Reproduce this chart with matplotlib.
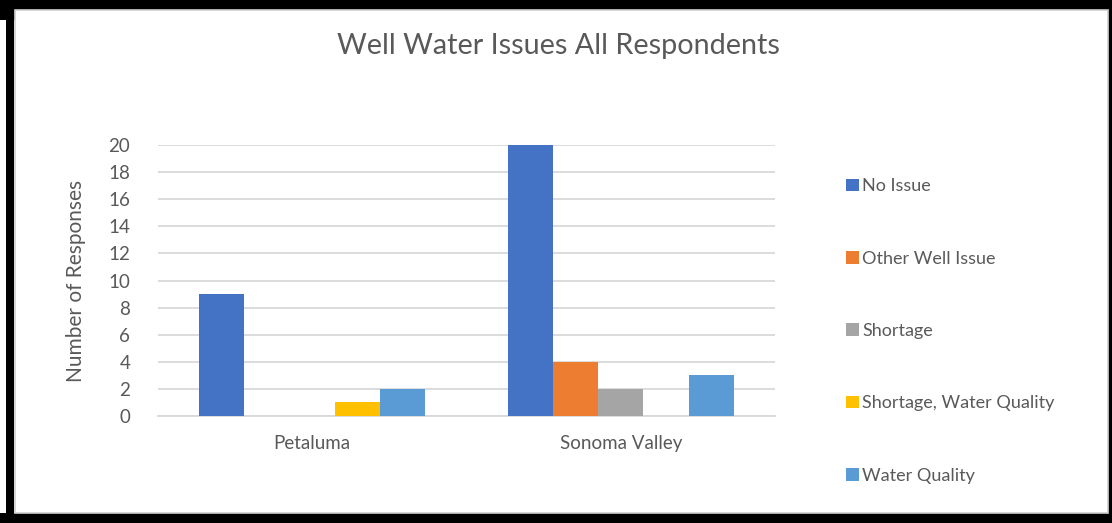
import numpy as np
import matplotlib
matplotlib.use("Agg")
import matplotlib.pyplot as plt
from matplotlib.patches import Rectangle

plt.rcParams['font.family'] = ['Lato', 'DejaVu Sans']

regions = ["Petaluma", "Sonoma Valley"]
issues = ["No Issue", "Other Well Issue", "Shortage",
          "Shortage, Water Quality", "Water Quality"]
no_issue = [9, 20]
other_well = [0, 4]
shortage = [0, 2]
shortage_wq = [1, 0]
water_quality = [2, 3]
series = [no_issue, other_well, shortage, shortage_wq, water_quality]
colors = ["#4472C4", "#ED7D31", "#A5A5A5", "#FFC000", "#5B9BD5"]

W, H = 1112, 523
fig = plt.figure(figsize=(W / 100, H / 100), dpi=100)
txt = "#595959"
grid = "#d9d9d9"

# background axes in pixel units: black frame and light chart border
bg = fig.add_axes([0, 0, 1, 1], zorder=-10)
bg.set_xlim(0, W)
bg.set_ylim(H, 0)
bg.axis("off")
bg.add_patch(Rectangle((6, 0), 8, H, color="black", lw=0))
bg.add_patch(Rectangle((0, 513), W, 10, color="black", lw=0))
bg.add_patch(Rectangle((0, 0), W, 20, color="black", lw=0))
bg.add_patch(Rectangle((1100, 0), 12, H, color="black", lw=0))
bg.add_patch(Rectangle((15, 9.5), 1093, 503, facecolor="white",
                       edgecolor="#d0d0d0", lw=1.2))

ax = fig.add_axes([158 / W, 107 / H, 617 / W, 271 / H])
ax.patch.set_alpha(0)
x = np.arange(len(regions))
bw = 0.1466
for i, (vals, c, lab) in enumerate(zip(series, colors, issues)):
    ax.bar(x + (i - 2) * bw, vals, bw, color=c, label=lab, zorder=3)

ax.set_xlim(-0.5, 1.5)
ax.set_ylim(0, 20)
ax.set_yticks(range(0, 21, 2))
ax.set_xticks(x)
ax.set_xticklabels(regions)
ax.yaxis.grid(True, color=grid, lw=1.3)
ax.set_axisbelow(True)
for s in ["top", "right", "left"]:
    ax.spines[s].set_visible(False)
ax.spines["bottom"].set_color(grid)
ax.spines["bottom"].set_linewidth(1.3)
ax.tick_params(length=0, colors=txt, labelsize=13.5)
ax.tick_params(axis="y", pad=20)
ax.tick_params(axis="x", pad=14)
ax.set_ylabel("Number of Responses", color=txt, fontsize=15, labelpad=16)

fig.text(558 / W, 1 - 46 / H, "Well Water Issues All Respondents",
         ha="center", va="center", color=txt, fontsize=20.7)

ax.legend(loc="upper left", bbox_to_anchor=(830 / W, 1 - 162 / H),
          bbox_transform=fig.transFigure, frameon=False, fontsize=13,
          labelcolor=txt, handlelength=0.7, handleheight=0.7,
          handletextpad=0.2, labelspacing=3.12)

fig.savefig("out.png", dpi=100)
